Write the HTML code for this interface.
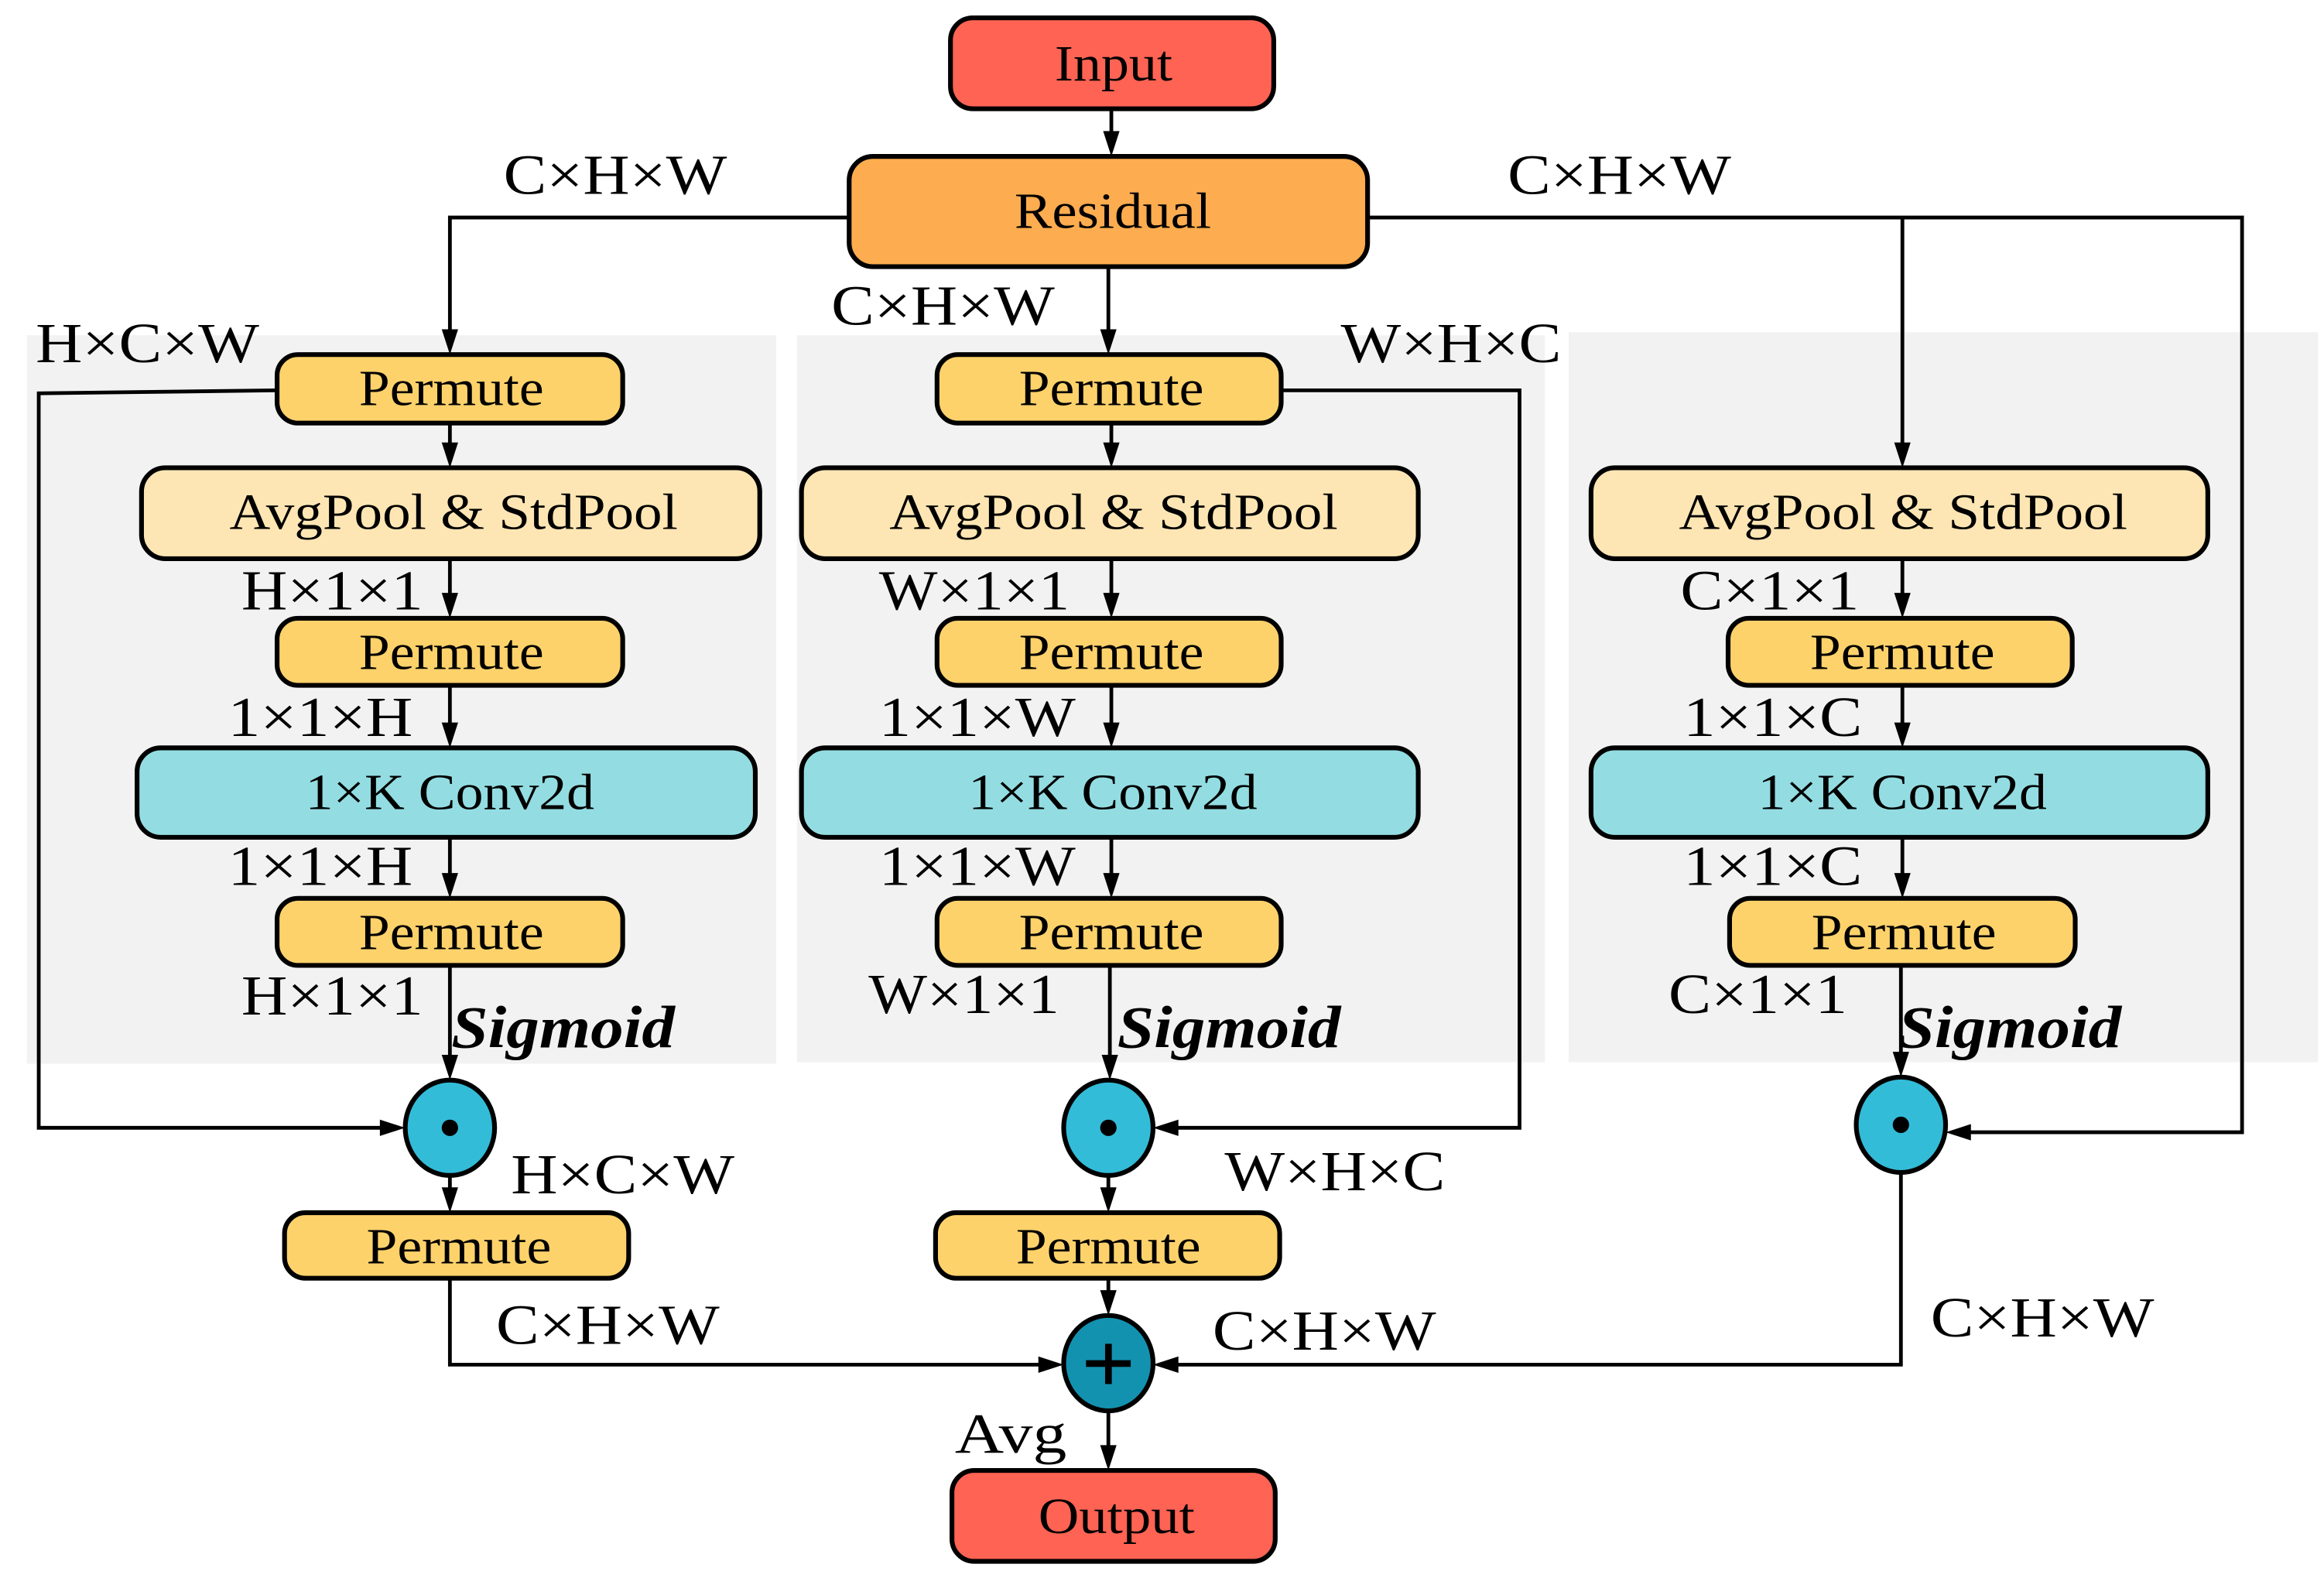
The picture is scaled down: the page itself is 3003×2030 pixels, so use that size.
<!DOCTYPE html>
<html><head><meta charset="utf-8"><style>html,body{margin:0;padding:0;background:#fff}svg{display:block}</style></head>
<body>
<svg width="3003" height="2030" viewBox="0 0 1560 1054.5" preserveAspectRatio="none" xmlns="http://www.w3.org/2000/svg">
<defs>
<path id="d" d="M-5.5,-17 L5.5,-17 L0,0 z"/>
<path id="r" d="M-17,-5.5 L-17,5.5 L0,0 z"/>
<path id="l" d="M17,-5.5 L17,5.5 L0,0 z"/>
</defs>
<rect x="18" y="225" width="503" height="489" fill="#f2f2f2"/>
<rect x="535" y="225" width="502" height="488" fill="#f2f2f2"/>
<rect x="1053" y="223" width="503" height="490" fill="#f2f2f2"/>

<g stroke="#000" stroke-width="2.5" fill="none">
<path d="M570,146 H302 V230"/>
<path d="M746,73 V98"/>
<path d="M744,179 V230"/>
<path d="M918,146 H1505 V760 H1314"/>
<path d="M1277,146 V306"/>
<path d="M186,262 L26,264 V757 H264"/>
<path d="M860,262 H1020 V757 H782"/>
<path d="M302,284 V306"/>
<path d="M302,375 V407"/>
<path d="M302,460 V494"/>
<path d="M302,562 V595"/>
<path d="M302,648 V717"/>
<path d="M302,789 V806"/>
<path d="M746,284 V306"/>
<path d="M746,375 V407"/>
<path d="M746,460 V494"/>
<path d="M746,562 V595"/>
<path d="M745,648 V717"/>
<path d="M744,789 V806"/>
<path d="M744,858 V876"/>
<path d="M744,948 V979"/>
<path d="M1277,375 V407"/>
<path d="M1277,460 V494"/>
<path d="M1277,562 V595"/>
<path d="M1276,648 V715"/>
<path d="M302,858 V916 H706"/>
<path d="M1276,787 V916 H782"/>
</g>
<g fill="#000">
<use href="#d" x="302" y="238"/><use href="#d" x="746" y="105"/><use href="#d" x="744" y="238"/>
<use href="#d" x="1277" y="314"/><use href="#d" x="302" y="314"/><use href="#d" x="302" y="415"/>
<use href="#d" x="302" y="502"/><use href="#d" x="302" y="603"/><use href="#d" x="302" y="725"/>
<use href="#d" x="302" y="814"/><use href="#d" x="746" y="314"/><use href="#d" x="746" y="415"/>
<use href="#d" x="746" y="502"/><use href="#d" x="746" y="603"/><use href="#d" x="745" y="725"/>
<use href="#d" x="744" y="814"/><use href="#d" x="744" y="883"/><use href="#d" x="744" y="987"/>
<use href="#d" x="1277" y="415"/><use href="#d" x="1277" y="502"/><use href="#d" x="1277" y="603"/>
<use href="#d" x="1276" y="723"/>
<use href="#l" x="1306" y="760"/><use href="#l" x="774" y="757"/><use href="#l" x="774" y="916"/>
<use href="#r" x="272" y="757"/><use href="#r" x="714" y="916"/>
</g>

<g stroke="#000" stroke-width="3.2">
<rect x="638" y="12" width="217" height="61" rx="15" fill="#ff6353"/>
<rect x="570" y="105" width="348" height="74" rx="16" fill="#fdac4f"/>
<rect x="186" y="238" width="232" height="46" rx="14" fill="#fed26b"/>
<rect x="95" y="314" width="415" height="61" rx="16" fill="#fee6b4"/>
<rect x="186" y="415" width="232" height="45" rx="14" fill="#fed26b"/>
<rect x="92" y="502" width="415" height="60" rx="16" fill="#93dde2"/>
<rect x="186" y="603" width="232" height="45" rx="14" fill="#fed26b"/>
<rect x="191" y="814" width="231" height="44" rx="14" fill="#fed26b"/>
<rect x="629" y="238" width="231" height="46" rx="14" fill="#fed26b"/>
<rect x="538" y="314" width="414" height="61" rx="16" fill="#fee6b4"/>
<rect x="629" y="415" width="231" height="45" rx="14" fill="#fed26b"/>
<rect x="538" y="502" width="414" height="60" rx="16" fill="#93dde2"/>
<rect x="629" y="603" width="231" height="45" rx="14" fill="#fed26b"/>
<rect x="628" y="814" width="231" height="44" rx="14" fill="#fed26b"/>
<rect x="639" y="987" width="217" height="61" rx="15" fill="#ff6353"/>
<rect x="1068" y="314" width="414" height="61" rx="16" fill="#fee6b4"/>
<rect x="1160" y="415" width="231" height="45" rx="14" fill="#fed26b"/>
<rect x="1068" y="502" width="414" height="60" rx="16" fill="#93dde2"/>
<rect x="1161" y="603" width="232" height="45" rx="14" fill="#fed26b"/>
<ellipse cx="302" cy="757" rx="30" ry="32" fill="#33bcd8"/>
<ellipse cx="744" cy="757" rx="30" ry="32" fill="#33bcd8"/>
<ellipse cx="1276" cy="755" rx="30" ry="32" fill="#33bcd8"/>
<ellipse cx="744" cy="915" rx="30" ry="32" fill="#1392b0"/>
</g>
<g fill="#000">
<circle cx="302" cy="757" r="5.5"/><circle cx="744" cy="757" r="5.5"/><circle cx="1276" cy="755" r="5.5"/>
<rect x="729" y="913" width="30" height="4.5"/><rect x="741.8" y="902" width="4.5" height="27"/>
</g>

<g font-family="Liberation Serif, serif" font-size="34" fill="#000">
<text x="708" y="54" textLength="79" lengthAdjust="spacingAndGlyphs">Input</text>
<text x="681" y="153" textLength="132" lengthAdjust="spacingAndGlyphs">Residual</text>
<text x="697" y="1029" textLength="105" lengthAdjust="spacingAndGlyphs">Output</text>
<g>
<text x="241" y="272" textLength="124" lengthAdjust="spacingAndGlyphs">Permute</text>
<text x="241" y="449" textLength="124" lengthAdjust="spacingAndGlyphs">Permute</text>
<text x="241" y="637" textLength="124" lengthAdjust="spacingAndGlyphs">Permute</text>
<text x="246" y="848" textLength="124" lengthAdjust="spacingAndGlyphs">Permute</text>
<text x="684" y="272" textLength="124" lengthAdjust="spacingAndGlyphs">Permute</text>
<text x="684" y="449" textLength="124" lengthAdjust="spacingAndGlyphs">Permute</text>
<text x="684" y="637" textLength="124" lengthAdjust="spacingAndGlyphs">Permute</text>
<text x="682" y="848" textLength="124" lengthAdjust="spacingAndGlyphs">Permute</text>
<text x="1215" y="449" textLength="124" lengthAdjust="spacingAndGlyphs">Permute</text>
<text x="1216" y="637" textLength="124" lengthAdjust="spacingAndGlyphs">Permute</text>
<text x="154" y="355" textLength="301" lengthAdjust="spacingAndGlyphs">AvgPool &amp; StdPool</text>
<text x="597" y="355" textLength="301" lengthAdjust="spacingAndGlyphs">AvgPool &amp; StdPool</text>
<text x="1127" y="355" textLength="301" lengthAdjust="spacingAndGlyphs">AvgPool &amp; StdPool</text>
<text x="205" y="543" textLength="194" lengthAdjust="spacingAndGlyphs">1×K Conv2d</text>
<text x="650" y="543" textLength="194" lengthAdjust="spacingAndGlyphs">1×K Conv2d</text>
<text x="1180" y="543" textLength="194" lengthAdjust="spacingAndGlyphs">1×K Conv2d</text>
</g>
<g font-size="38">
<text x="338" y="130" textLength="150" lengthAdjust="spacingAndGlyphs">C×H×W</text>
<text x="1012" y="130" textLength="150" lengthAdjust="spacingAndGlyphs">C×H×W</text>
<text x="558" y="218" textLength="150" lengthAdjust="spacingAndGlyphs">C×H×W</text>
<text x="24" y="243" textLength="150" lengthAdjust="spacingAndGlyphs">H×C×W</text>
<text x="900" y="243" textLength="148" lengthAdjust="spacingAndGlyphs">W×H×C</text>
<text x="162" y="409" textLength="122" lengthAdjust="spacingAndGlyphs">H×1×1</text>
<text x="153" y="494" textLength="124" lengthAdjust="spacingAndGlyphs">1×1×H</text>
<text x="153" y="594" textLength="124" lengthAdjust="spacingAndGlyphs">1×1×H</text>
<text x="162" y="681" textLength="122" lengthAdjust="spacingAndGlyphs">H×1×1</text>
<text x="590" y="409" textLength="128" lengthAdjust="spacingAndGlyphs">W×1×1</text>
<text x="590" y="494" textLength="132" lengthAdjust="spacingAndGlyphs">1×1×W</text>
<text x="590" y="594" textLength="132" lengthAdjust="spacingAndGlyphs">1×1×W</text>
<text x="583" y="680" textLength="128" lengthAdjust="spacingAndGlyphs">W×1×1</text>
<text x="1128" y="409" textLength="120" lengthAdjust="spacingAndGlyphs">C×1×1</text>
<text x="1130" y="494" textLength="120" lengthAdjust="spacingAndGlyphs">1×1×C</text>
<text x="1130" y="594" textLength="120" lengthAdjust="spacingAndGlyphs">1×1×C</text>
<text x="1120" y="680" textLength="120" lengthAdjust="spacingAndGlyphs">C×1×1</text>
<text x="343" y="801" textLength="150" lengthAdjust="spacingAndGlyphs">H×C×W</text>
<text x="822" y="799" textLength="148" lengthAdjust="spacingAndGlyphs">W×H×C</text>
<text x="333" y="902" textLength="150" lengthAdjust="spacingAndGlyphs">C×H×W</text>
<text x="814" y="906" textLength="150" lengthAdjust="spacingAndGlyphs">C×H×W</text>
<text x="1296" y="897" textLength="150" lengthAdjust="spacingAndGlyphs">C×H×W</text>
<text x="641" y="975" textLength="75" lengthAdjust="spacingAndGlyphs">Avg</text>
</g>
<g font-size="40" font-weight="bold" font-style="italic">
<text x="303" y="703" textLength="150" lengthAdjust="spacingAndGlyphs">Sigmoid</text>
<text x="750" y="703" textLength="150" lengthAdjust="spacingAndGlyphs">Sigmoid</text>
<text x="1274" y="703" textLength="150" lengthAdjust="spacingAndGlyphs">Sigmoid</text>
</g>
</g>
</svg>
</body></html>
